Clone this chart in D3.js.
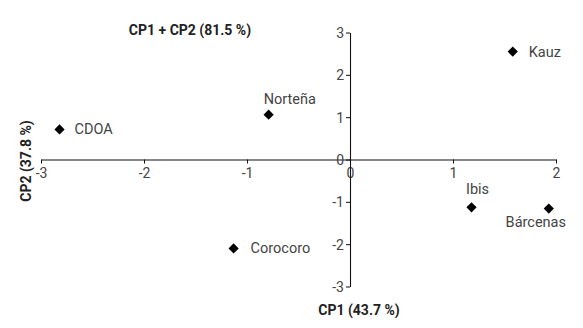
<!DOCTYPE html>
<html>
<head>
<meta charset="utf-8">
<script src="https://cdn.jsdelivr.net/npm/d3@7"></script>
<style>
  body { margin: 0; background: #fff; }
  text { font-family: Roboto, "Noto Sans", sans-serif; }
</style>
</head>
<body>
<div id="biplot"></div>
<script>
// scores of the first two components
const genotypes = ["Kauz", "Norteña", "CDOA", "Ibis", "Bárcenas", "Corocoro"];
const cp1Values = [1.58, -0.79, -2.82, 1.18, 1.93, -1.13];
const cp2Values = [2.55, 1.06, 0.71, -1.13, -1.16, -2.10];

const xTicks = [-3, -2, -1, 0, 1, 2];
const yTicks = [-3, -2, -1, 0, 1, 2, 3];

const titleText = "CP1 + CP2 (81.5 %)";
const xLabelText = "CP1 (43.7 %)";
const yLabelText = "CP2 (37.8 %)";

// label placement (pixels from the point), same order as genotypes
const labelDx = [16, -5, 15, 6, -13, 17];
const labelDy = [5, -11, 5, -13, 18, 5];
const labelAnchor = ["start", "start", "start", "middle", "middle", "start"];

const width = 583, height = 328;

const svg = d3.select("#biplot")
  .append("svg")
  .attr("width", width)
  .attr("height", height);

const x = d3.scaleLinear().domain([-3, 2]).range([41, 556]);
const y = d3.scaleLinear().domain([-3, 3]).range([286.5, 32.5]);

// x axis crossing at y = 0
const xAxis = svg.append("g")
  .attr("transform", `translate(0, ${y(0)})`)
  .call(d3.axisBottom(x).tickValues(xTicks).tickFormat(d => String(d))
    .tickSize(4).tickSizeOuter(0).tickPadding(3));

// y axis crossing at x = 0
const yAxis = svg.append("g")
  .attr("transform", `translate(${x(0)}, 0)`)
  .call(d3.axisLeft(y).tickValues(yTicks).tickFormat(d => String(d))
    .tickSize(4).tickSizeOuter(0).tickPadding(2));

[xAxis, yAxis].forEach(a => {
  a.select(".domain").attr("stroke", "#111").attr("stroke-width", 1.1);
  a.selectAll(".tick line").attr("stroke", "#111");
  a.selectAll(".tick text")
    .style("font-size", "14px")
    .attr("fill", "#444");
});
xAxis.selectAll(".tick text").attr("dy", "0.8em");
yAxis.selectAll(".tick text").attr("dy", "0.35em");

// points
const data = genotypes.map((g, i) => ({ name: g, cp1: cp1Values[i], cp2: cp2Values[i], i: i }));

svg.selectAll(".pt")
  .data(data)
  .enter()
  .append("path")
    .attr("class", "pt")
    .attr("d", d3.symbol().type(d3.symbolSquare).size(52))
    .attr("transform", d => `translate(${x(d.cp1)}, ${y(d.cp2)}) rotate(45)`)
    .attr("fill", "#000");

svg.selectAll(".lbl")
  .data(data)
  .enter()
  .append("text")
    .attr("class", "lbl")
    .attr("x", d => x(d.cp1) + labelDx[d.i])
    .attr("y", d => y(d.cp2) + labelDy[d.i])
    .attr("text-anchor", d => labelAnchor[d.i])
    .style("font-size", "14.5px")
    .attr("fill", "#444")
    .text(d => d.name);

// titles
svg.append("text")
  .attr("x", 190)
  .attr("y", 35)
  .attr("text-anchor", "middle")
  .style("font-size", "14px")
  .style("font-weight", "bold")
  .attr("fill", "#222")
  .text(titleText);

svg.append("text")
  .attr("x", 359)
  .attr("y", 315)
  .attr("text-anchor", "middle")
  .style("font-size", "14px")
  .style("font-weight", "bold")
  .attr("fill", "#222")
  .text(xLabelText);

svg.append("text")
  .attr("transform", `translate(31, 161) rotate(-90)`)
  .attr("text-anchor", "middle")
  .style("font-size", "14px")
  .style("font-weight", "bold")
  .attr("fill", "#222")
  .text(yLabelText);
</script>
</body>
</html>
